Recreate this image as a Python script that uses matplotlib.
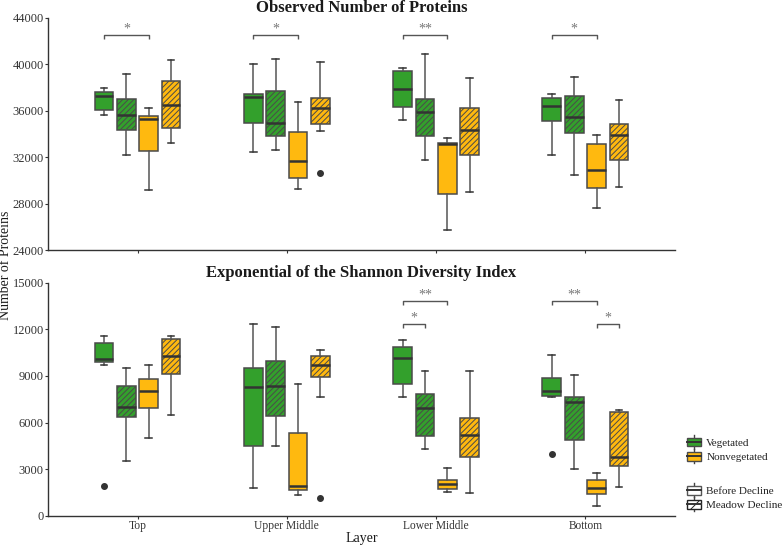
# Protein richness and Shannon diversity by layer: grouped box plots
import matplotlib
matplotlib.use('Agg')
import matplotlib.pyplot as plt
from matplotlib.patches import Rectangle, Patch
from matplotlib.lines import Line2D
from matplotlib.legend_handler import HandlerBase

plt.rcParams['font.family'] = ['Liberation Serif', 'DejaVu Serif']
plt.rcParams['hatch.linewidth'] = 0.7

layers = ['Top', 'Upper Middle', 'Lower Middle', 'Bottom']

# box stats per layer: (whisker low, q1, median, q3, whisker high)
obs_veg_before = [(35590, 36040, 37220, 37590, 37910), (32460, 34900, 37130, 37450, 39970),
                  (35210, 36270, 37880, 39370, 39690), (32150, 35100, 36390, 37110, 37420)]
obs_veg_decline = [(32150, 34300, 35640, 36960, 39170), (32580, 33810, 34960, 37650, 40460),
                   (31720, 33840, 35840, 36960, 40890), (30430, 34100, 35470, 37250, 38850)]
obs_non_before = [(29160, 32550, 35300, 35560, 36250), (29250, 30200, 31690, 34180, 36730),
                  (25720, 28790, 33120, 33230, 33610), (27640, 29360, 30880, 33150, 33890)]
obs_non_decline = [(33180, 34530, 36450, 38570, 40320), (34240, 34840, 36190, 37110, 40170),
                   (28990, 32170, 34320, 36190, 38800), (29450, 31720, 33870, 34810, 36880)]
obs_fliers = [[[], [], [], []], [[], [], [], []], [[], [], [], []], [[], [30600], [], []]]

shn_veg_before = [(9720, 9870, 10110, 11100, 11550), (1800, 4460, 8310, 9490, 12320),
                  (7620, 8460, 10150, 10840, 11330), (7660, 7730, 8050, 8840, 10320)]
shn_veg_decline = [(3500, 6350, 7020, 8350, 9490), (4460, 6420, 8350, 9980, 12150),
                   (4270, 5150, 6950, 7810, 9290), (3000, 4890, 7320, 7660, 9040)]
shn_non_before = [(5000, 6910, 8000, 8800, 9680), (1350, 1630, 1910, 5320, 8500),
                  (1520, 1740, 2020, 2320, 3070), (600, 1400, 1760, 2320, 2730)]
shn_non_decline = [(6460, 9100, 10280, 11400, 11590), (7640, 8930, 9720, 10260, 10690),
                   (1460, 3780, 5190, 6290, 9290), (1820, 3220, 3800, 6650, 6800)]
shn_fliers = [[[1930], [], [], [3970]], [[], [], [], []], [[], [], [], []], [[], [1140], [], []]]

# significance brackets: (layer index, box a, box b, y, label)
obs_sig = [(0, 0, 2, 42500, '*'), (1, 0, 2, 42500, '*'), (2, 0, 2, 42500, '**'), (3, 0, 2, 42500, '*')]
shn_sig = [(2, 0, 2, 13820, '**'), (2, 0, 1, 12340, '*'), (3, 0, 2, 13820, '**'), (3, 2, 3, 12340, '*')]

green = '#33a02c'
yellow = '#ffb90f'
face_colors = [green, green, yellow, yellow]
hatches = [None, '//////', None, '//////']
offsets = [-0.225, -0.075, 0.075, 0.225]
edge = '#4a4a4a'


def draw_panel(ax, series, fliers, sig, ylim, yticks, drop, title):
    for s, (data, fl) in enumerate(zip(series, fliers)):
        stats = []
        for i, (lo, q1, med, q3, hi) in enumerate(data):
            stats.append(dict(whislo=lo, q1=q1, med=med, q3=q3, whishi=hi, fliers=fl[i]))
        pos = [i + 1 + offsets[s] for i in range(len(data))]
        bp = ax.bxp(stats, positions=pos, widths=0.125, capwidths=0.045, patch_artist=True,
                    manage_ticks=False,
                    boxprops=dict(facecolor=face_colors[s], edgecolor=edge, linewidth=1.1),
                    medianprops=dict(color='#333333', linewidth=1.8),
                    whiskerprops=dict(color='#555555', linewidth=1.1),
                    capprops=dict(color='#333333', linewidth=1.1),
                    flierprops=dict(marker='o', markerfacecolor='#333333', markeredgecolor='#333333',
                                    markersize=4))
        for b in bp['boxes']:
            if hatches[s]:
                b.set_hatch(hatches[s])
            b.set_zorder(2)
    for li, a, b, y, lab in sig:
        x1 = li + 1 + offsets[a]
        x2 = li + 1 + offsets[b]
        ax.plot([x1, x1, x2, x2], [y - drop, y, y, y - drop], color='#555555', lw=1.0,
                solid_capstyle='butt')
        ax.annotate(lab, ((x1 + x2) / 2, y), xytext=(0, 2), textcoords='offset points',
                    ha='center', va='baseline', fontsize=10, color='#777777')
    ax.set_xlim(0.4, 4.6)
    ax.set_ylim(*ylim)
    ax.set_yticks(yticks)
    ax.set_xticks(range(1, 5))
    for sp in ['top', 'right']:
        ax.spines[sp].set_visible(False)
    for sp in ['left', 'bottom']:
        ax.spines[sp].set_color('#333333')
        ax.spines[sp].set_linewidth(1.0)
    ax.tick_params(colors='#333333', length=2, width=0.8, pad=1, labelsize=9, labelcolor='#333333')
    ax.set_title(title, fontsize=12, fontweight='bold', color='#1a1a1a', pad=4)


fig = plt.figure(figsize=(7.84, 5.46), dpi=100)
ax1 = fig.add_axes([0.0612, 0.5421, 0.7997, 0.4258])
ax2 = fig.add_axes([0.0612, 0.0555, 0.7997, 0.4267])

draw_panel(ax1, [obs_veg_before, obs_veg_decline, obs_non_before, obs_non_decline], obs_fliers,
           obs_sig, (24000, 44000), range(24000, 44001, 4000), 350, 'Observed Number of Proteins')
ax1.set_xticklabels([])

draw_panel(ax2, [shn_veg_before, shn_veg_decline, shn_non_before, shn_non_decline], shn_fliers,
           shn_sig, (0, 15000), range(0, 15001, 3000), 260, 'Exponential of the Shannon Diversity Index')
ax2.set_xticklabels(layers, fontsize=8.3)
ax2.tick_params(axis='x', pad=1)
ax2.set_xlabel('Layer', fontsize=10, color='#1a1a1a', labelpad=0)

fig.text(6 / 784, 0.5147, 'Number of Proteins', rotation=90, ha='center', va='center',
         fontsize=10, color='#1a1a1a')


class BoxKey(HandlerBase):
    def create_artists(self, legend, orig_handle, xdescent, ydescent, width, height, fontsize, trans):
        x0, y0 = -xdescent, -ydescent
        cx = x0 + width / 2
        stub = height * 0.3
        box = Rectangle((x0, y0), width, height, facecolor=orig_handle.get_facecolor(),
                        edgecolor=orig_handle.get_edgecolor(), hatch=orig_handle.get_hatch(),
                        lw=1.0, transform=trans)
        med = Line2D([x0, x0 + width], [y0 + height / 2] * 2, color='#333333', lw=1.4, transform=trans)
        w1 = Line2D([cx, cx], [y0 - stub, y0], color='#444444', lw=1.0, transform=trans)
        w2 = Line2D([cx, cx], [y0 + height, y0 + height + stub], color='#444444', lw=1.0, transform=trans)
        return [w1, w2, box, med]


fill_handles = [Patch(facecolor=green, edgecolor=edge), Patch(facecolor=yellow, edgecolor=edge)]
line_handles = [Patch(facecolor='white', edgecolor='#555555'),
                Patch(facecolor='white', edgecolor='#222222', hatch='//')]
leg_kw = dict(frameon=False, borderpad=0, borderaxespad=0, handlelength=1.25, handleheight=0.85,
              handletextpad=0.5, labelspacing=0.35, loc='upper left',
              prop={'size': 8}, handler_map={Patch: BoxKey()})
leg1 = fig.legend(fill_handles, ['Vegetated', 'Nonvegetated'], bbox_to_anchor=(0.876, 0.1985), **leg_kw)
leg2 = fig.legend(line_handles, ['Before Decline', 'Meadow Decline'], bbox_to_anchor=(0.876, 0.1105), **leg_kw)
for t in leg1.get_texts() + leg2.get_texts():
    t.set_color('#222222')

fig.savefig('out.png', dpi=100)
